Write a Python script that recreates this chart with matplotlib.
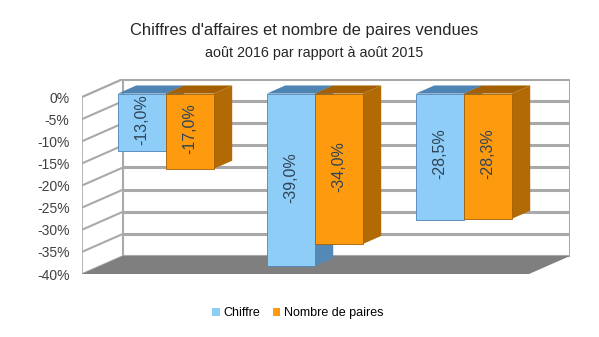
import matplotlib.pyplot as plt
from matplotlib.patches import Polygon, Patch

plt.rcParams['font.family'] = ['Liberation Sans', 'DejaVu Sans']

# data
series_names = ['Chiffre', 'Nombre de paires']
chiffre = [-13.0, -39.0, -28.5]
paires = [-17.0, -34.0, -28.3]
yticks = [0, -5, -10, -15, -20, -25, -30, -35, -40]

title = "Chiffres d'affaires et nombre de paires vendues"
subtitle = "août 2016 par rapport à août 2015"

# colours: front, top, side
blue = ['#8dcdf8', '#4d84b4', '#5489b6']
orange = ['#fd9a0e', '#a45f02', '#b26a04']
grid_c = '#a9a9a9'

# fake 3d geometry (data units)
ymin, ymax = -40, 0
xl, xr = -0.51, 2.49          # front edge of the floor / walls
ddx, ddy = 0.275, 4.07        # full depth offset
bz0, bz = 0.19, 0.45          # bar front position and bar depth (fraction of depth)
w = 0.322

fig = plt.figure(figsize=(5.99, 3.37), dpi=100)
ax = fig.add_axes([82/599, 63/337, 488/599, 195/337])
ax.set_xlim(xl, xr + ddx)
ax.set_ylim(ymin, ymax + ddy)
for s in ax.spines.values():
    s.set_visible(False)
ax.set_xticks([])
ax.set_yticks(yticks)
ax.set_yticklabels(['%d%%' % t for t in yticks], fontsize=10, color='#404040')
ax.tick_params(axis='y', length=0, pad=9)

# walls
left_wall = Polygon([(xl, ymax), (xl, ymin), (xl+ddx, ymin+ddy), (xl+ddx, ymax+ddy)],
                    closed=True, fc='white', ec=grid_c, lw=1.2, zorder=1)
ax.add_patch(left_wall)
back_wall = Polygon([(xl+ddx, ymax+ddy), (xl+ddx, ymin+ddy), (xr+ddx, ymin+ddy), (xr+ddx, ymax+ddy)],
                    closed=True, fc='white', ec=grid_c, lw=1.5, zorder=1)
ax.add_patch(back_wall)
for t in yticks[:-1]:
    ax.plot([xl, xl+ddx], [t, t+ddy], color=grid_c, lw=1.5, zorder=2, solid_capstyle='butt')
    ax.plot([xl+ddx, xr+ddx], [t+ddy, t+ddy], color=grid_c, lw=2.2, zorder=2, solid_capstyle='butt')
floor = Polygon([(xl, ymin), (xr, ymin), (xr+ddx, ymin+ddy), (xl+ddx, ymin+ddy)],
                closed=True, fc='#7f7f7f', ec='none', zorder=3)
ax.add_patch(floor)

# bars
ox, oy = bz0*ddx, bz0*ddy
bx, by = bz*ddx, bz*ddy
for i in range(len(chiffre)):
    for j, (vals, cols) in enumerate([(chiffre, blue), (paires, orange)]):
        v = vals[i]
        x0 = i - w + j*w + ox
        x1 = x0 + w
        top, bot = oy, v + oy
        side = Polygon([(x1, top), (x1, bot), (x1+bx, bot+by), (x1+bx, top+by)],
                       closed=True, fc=cols[2], ec='none', zorder=4)
        ax.add_patch(side)
        cap = Polygon([(x0, top), (x1, top), (x1+bx, top+by), (x0+bx, top+by)],
                      closed=True, fc=cols[1], ec='none', zorder=4)
        ax.add_patch(cap)
        ax.bar(x0, v, width=w, bottom=oy, align='edge', color=cols[0],
               edgecolor=cols[1], linewidth=0.6, zorder=5)
        lab = ('%.1f' % v).replace('.', ',') + '%'
        ax.text(x0 + w/2, oy + v/2 + 0.6, lab, rotation=90, ha='center', va='center',
                fontsize=11.5, color='#2f4358', zorder=6)

fig.text(304/599, 1 - 31/337, title, ha='center', va='center', fontsize=11.9, color='#262626')
fig.text(314/599, 1 - 53/337, subtitle, ha='center', va='center', fontsize=10.3, color='#262626')

handles = [Patch(fc=blue[0], ec='none'), Patch(fc=orange[0], ec='none')]
fig.legend(handles, series_names, loc='center', bbox_to_anchor=(298/599, 1 - 313/337),
           ncol=2, frameon=False, fontsize=9, handlelength=0.6, handleheight=0.6,
           handletextpad=0.3, columnspacing=1.0)

fig.savefig('out.png', dpi=100)
